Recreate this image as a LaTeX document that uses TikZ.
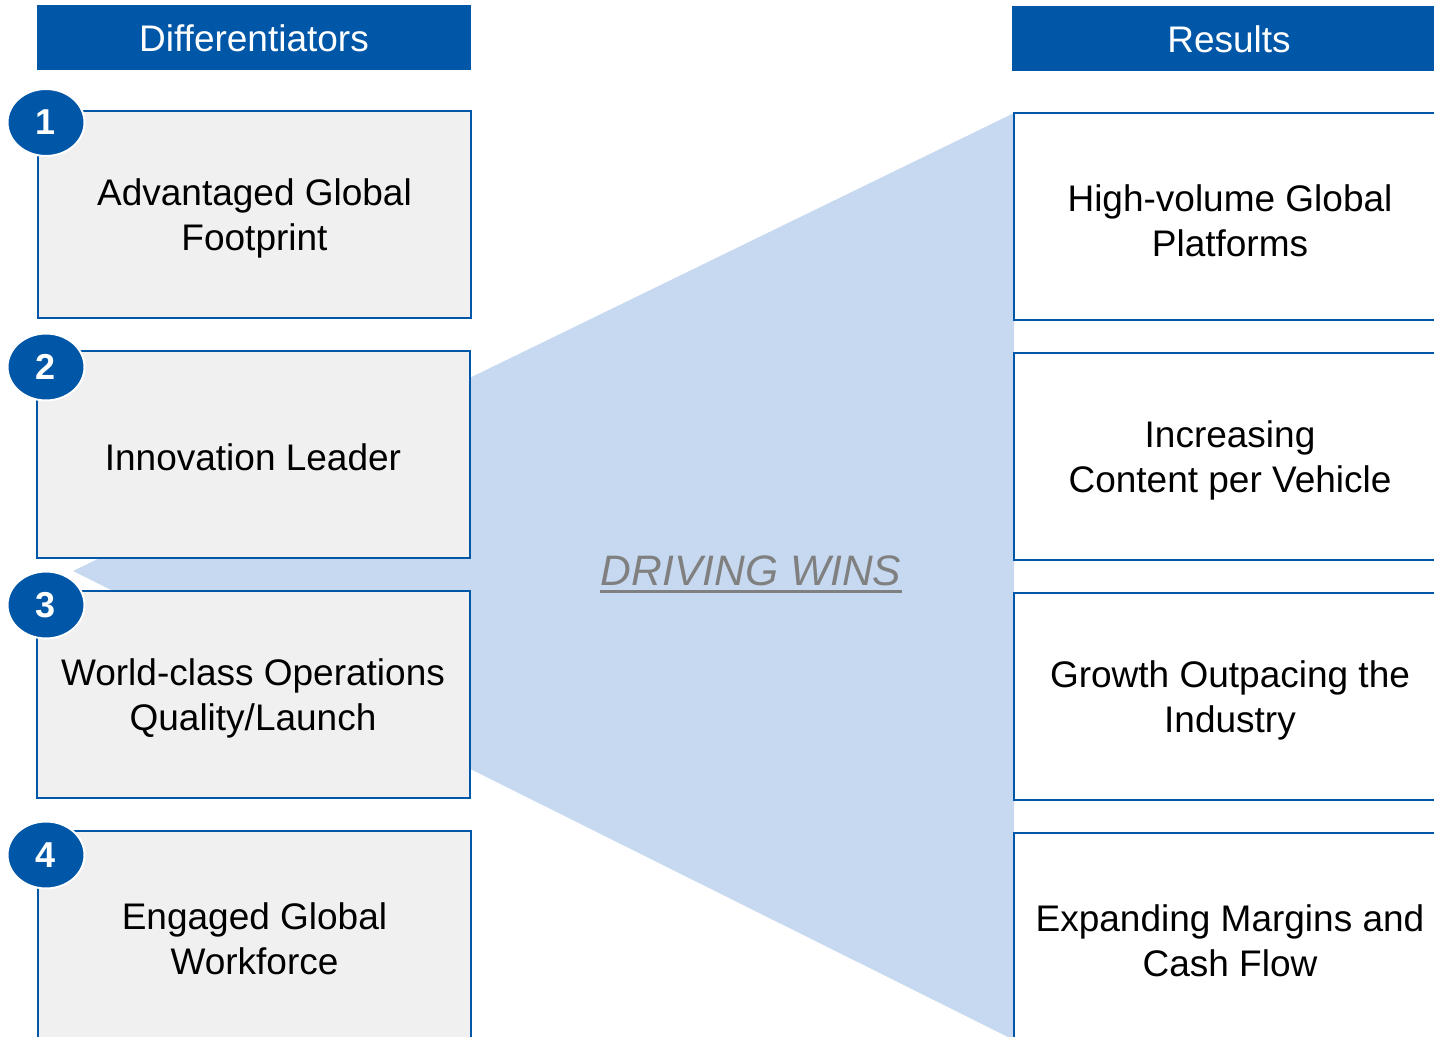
\documentclass[tikz,border=0pt]{standalone}
\usepackage{fontspec}
\setmainfont{Liberation Sans}
\usetikzlibrary{shapes.geometric}
\definecolor{brandblue}{RGB}{0,87,168}
\definecolor{funnelblue}{RGB}{198,217,240}
\definecolor{boxgray}{RGB}{240,240,240}
\definecolor{labelgray}{RGB}{128,128,128}
\begin{document}
\begin{tikzpicture}[x=0.5pt,y=-0.5pt,
  every node/.style={font=\fontsize{18.5}{22.5}\selectfont},
  header/.style={fill=brandblue,text=white,minimum width=217pt,minimum height=32.5pt,inner sep=0pt},
  diffbox/.style={draw=brandblue,line width=1pt,fill=boxgray,minimum width=216.5pt,minimum height=103.5pt,inner sep=0pt},
  resbox/.style={draw=brandblue,line width=1pt,fill=white,minimum width=218pt,minimum height=103.5pt,inner sep=0pt},
  boxtext/.style={align=center,inner sep=0pt,yshift=-2.2pt},
  badge/.style={ellipse,fill=brandblue,draw=white,line width=1pt,minimum width=38.5pt,minimum height=33.5pt,inner sep=0pt,text=white,font=\fontsize{18}{20}\selectfont\bfseries}]
\useasboundingbox (0,0) rectangle (1434,1037);
\clip (0,0) rectangle (1434,1037);

% funnel linking the differentiators to the results
\coordinate (tip) at (73,571);
\coordinate (ftop) at (1014,113);
\coordinate (fbot) at (1014,1040);
\fill[funnelblue] (tip) -- (ftop) -- (fbot) -- cycle;

% column headers
\node[header] (hdiff) at (254,38) {Differentiators};
\node[header] (hres) at (1229,39) {Results};

% differentiators
\node[diffbox] (d1) at (254.5,214.5) {};
\node[diffbox] (d2) at (253,454.5) {};
\node[diffbox] (d3) at (253,694.5) {};
\node[diffbox] (d4) at (254.5,934.5) {};
\node[boxtext] (t1) at (d1.center) {Advantaged Global\\Footprint};
\node[boxtext,yshift=1pt] (t2) at (d2.center) {Innovation Leader};
\node[boxtext] (t3) at (d3.center) {World-class Operations\\Quality/Launch};
\node[boxtext] (t4) at (d4.center) {Engaged Global\\Workforce};

% numbered badges
\node[badge] (b1) at (46,122.5) {1};
\node[badge] (b2) at (46,367) {2};
\node[badge] (b3) at (46,605) {3};
\node[badge] (b4) at (46,855) {4};

% results
\node[resbox] (r1) at (1232,216.5) {};
\node[resbox] (r2) at (1232,456.5) {};
\node[resbox] (r3) at (1232,696.5) {};
\node[resbox] (r4) at (1232,936.5) {};
\node[boxtext,xshift=-1pt] (s1) at (r1.center) {High-volume Global\\Platforms};
\node[boxtext,xshift=-1pt] (s2) at (r2.center) {Increasing\\Content per Vehicle};
\node[boxtext,xshift=-1pt] (s3) at (r3.center) {Growth Outpacing the\\Industry};
\node[boxtext,xshift=-1pt] (s4) at (r4.center) {Expanding Margins and\\Cash Flow};

% central label
\node[text=labelgray,inner sep=0pt,font=\fontsize{21.3}{24}\selectfont\itshape,anchor=base] (dw) at (751,585) {DRIVING WINS};
\draw[labelgray,line width=1.5pt] ([yshift=-3pt]dw.base west) -- ([yshift=-3pt]dw.base east);
\end{tikzpicture}
\end{document}
